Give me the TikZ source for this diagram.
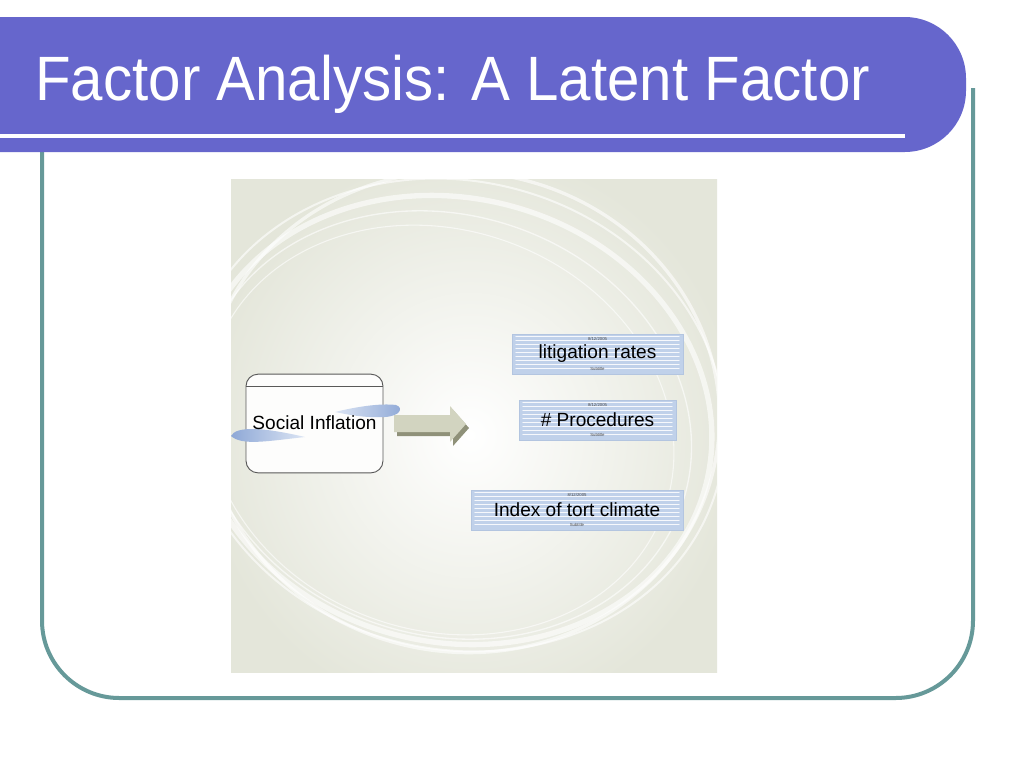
\documentclass[tikz,border=0pt]{standalone}
\usepackage{fontspec}
\setmainfont{Liberation Sans}
\newfontfamily\slidetitlefont[FakeStretch=0.93]{Liberation Sans}
\usetikzlibrary{shapes,arrows,calc}

\definecolor{slidepurple}{HTML}{6666CC}
\definecolor{slideteal}{HTML}{669999}
\definecolor{panelbg}{HTML}{E4E6DA}
\definecolor{boxblue}{HTML}{C0D1EA}
\definecolor{boxedge}{HTML}{B3C5E0}
\definecolor{arrowfront}{HTML}{D2D4C0}
\definecolor{arrowshade}{HTML}{8F9179}
\definecolor{swooshdark}{HTML}{8EA8D6}
\definecolor{swooshlight}{HTML}{DCE5F4}

\newcommand{\framewidth}{3pt}
\tikzstyle{frame}=[draw=slideteal, line width=\framewidth, rounded corners=58pt]
\tikzstyle{titletext}=[white, anchor=base west, inner sep=0pt,
                       font=\slidetitlefont\fontsize{47}{50}\selectfont]
\tikzstyle{ring}=[draw=white, opacity=0.6]
\tikzstyle{factorbox}=[draw=black!65, fill=white!92!panelbg, line width=0.7pt,
                       rounded corners=9pt, minimum width=102.75pt,
                       minimum height=74pt, inner sep=0pt,
                       font=\fontsize{14.3}{16}\selectfont]
\tikzstyle{indicatorfill}=[fill=boxblue]
\tikzstyle{indicatorstripe}=[draw=white!85!boxblue, line width=1.1pt, line cap=round]
\tikzstyle{indicatoredge}=[draw=boxedge, line width=0.4pt]
\tikzstyle{indicatortext}=[inner sep=0pt, font=\fontsize{14.3}{16}\selectfont]
\tikzstyle{tinytext}=[inner sep=0pt, text=black!70, font=\fontsize{3.2}{3.5}\selectfont]

% one striped indicator box: name, left, top, right, label
\newcommand{\indicator}[5]{%
  \fill[indicatorfill] (#2,#3) rectangle (#4,#3+40);
  \foreach \k in {2.5,6.5,...,38}
    \draw[indicatorstripe] (#2+4,#3+\k) -- (#4-4,#3+\k);
  \draw[indicatoredge] (#2,#3) rectangle (#4,#3+40);
  \node[indicatortext] at ({(#2+#4)/2},#3+19.5) (#1) {#5};
  \node[tinytext] at ({(#2+#4)/2},#3+5) (#1date) {8/12/2005};
  \node[tinytext] at ({(#2+#4)/2},#3+34.5) (#1sub) {Subtitle};
}

\begin{document}
\begin{tikzpicture}[x=0.75pt,y=-0.75pt]

  % Page (pixel grid, y going down)
  \useasboundingbox (0,0) rectangle (1024,768);
  \fill[white] (0,0) rectangle (1024,768);

  % Teal frame, its top is hidden under the title bar
  \draw[frame] (42,152) -- (42,698) -- (973,698) -- (973,88);

  % Title bar
  \fill[slidepurple, rounded corners=46pt] (0,17) -- (966,17) -- (966,152) -- (0,152);
  \draw[white, line width=3pt] (0,136) -- (905,136);
  \node[titletext] at (35,100) (title) {Factor Analysis: A Latent Factor};

  % Picture panel with its white rings
  \begin{scope}
    \clip (231,179) rectangle (717,672);
    \shade[inner color=white, outer color=panelbg] (200,150) rectangle (740,720);
    \draw[ring, line width=4pt, rotate around={-14:(452,420)}] (452,420) ellipse [x radius=262, y radius=222];
    \draw[ring, line width=1.5pt, rotate around={-14:(455,415)}] (455,415) ellipse [x radius=272, y radius=234];
    \draw[ring, line width=1pt, rotate around={-18:(445,425)}] (445,425) ellipse [x radius=250, y radius=210];
    \draw[ring, line width=2.5pt, rotate around={-10:(462,412)}] (462,412) ellipse [x radius=258, y radius=240];
    \draw[ring, line width=0.8pt, rotate around={-20:(440,430)}] (440,430) ellipse [x radius=238, y radius=200];
  \end{scope}

  % Latent factor
  \node[factorbox] at (314.5,423.5) (social) {};
  \draw[black!65, line width=0.5pt] ($(social.north west)+(0,13)$) -- ($(social.north east)+(0,13)$);
  \shade[left color=swooshdark, right color=swooshlight]
    (231,436) .. controls (236,426) and (262,427) .. (305,437)
    .. controls (268,441) and (242,446) .. (231,436) -- cycle;
  \shade[left color=swooshlight, right color=swooshdark]
    (335,412) .. controls (355,407) and (380,403) .. (396,405)
    .. controls (404,408) and (400,416) .. (385,417)
    .. controls (365,418) and (350,415) .. (335,412) -- cycle;
  \node[inner sep=0pt, font=\fontsize{14.3}{16}\selectfont] at (314.5,423) (socialtext) {Social Inflation};

  % Block arrow
  \fill[arrowshade] (397,419) -- (453,419) -- (453,410) -- (469,428) -- (453,446) -- (453,436) -- (397,436) -- cycle;
  \fill[arrowfront] (394,415) -- (450,415) -- (450,406) -- (466,424) -- (450,442) -- (450,432) -- (394,432) -- cycle;

  % Indicators
  \indicator{litigation}{512}{334}{683}{litigation rates}
  \indicator{procedures}{519}{400}{676}{\# Procedures}
  \indicator{tort}{471}{490}{683}{Index of tort climate}

\end{tikzpicture}
\end{document}
